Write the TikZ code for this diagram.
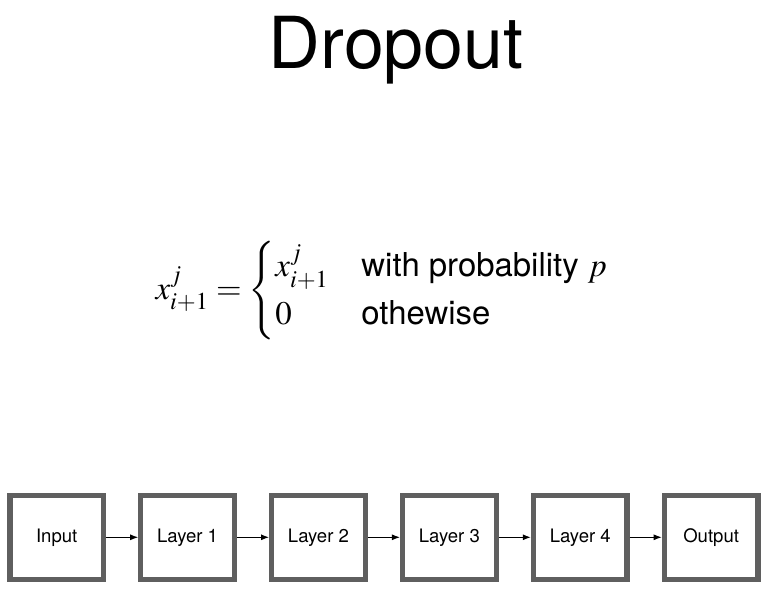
\documentclass[tikz,border=0pt]{standalone}
\usepackage{amsmath}
\usepackage{mathptmx}
\usepackage[no-math]{fontspec}
\setmainfont{TeX Gyre Heros}
\usetikzlibrary{positioning,arrows.meta}
\definecolor{boxgray}{HTML}{5F5F5F}
\tikzset{
  layerbox/.style={draw=boxgray, line width=3.76pt, fill=white, minimum width=2.34cm,
    minimum height=2.1cm, inner sep=0pt, font=\fontsize{13.2}{15}\selectfont},
  flow/.style={-{Latex[length=2mm,width=1.5mm]}, line width=0.7pt}
}
\begin{document}
\begin{tikzpicture}
    % Frame
    \useasboundingbox (0,0) rectangle (19.475,14.775);
    % Title
    \node (title) at (9.9,13.525) {\fontsize{51}{60}\selectfont Dropout};
    % Formula
    \node (rule) at (9.55,7.5) {\fontsize{23.4}{28}\selectfont
      $x^{j}_{i+1} = \begin{cases} x^{j}_{i+1} & \text{with probability } p\\ 0 & \text{othewise}\end{cases}$};
    % Layers
    \node [layerbox] (input) at (1.4175,1.3425) {Input};
    \node [layerbox, right=0.8cm of input] (layer1) {Layer 1};
    \node [layerbox, right=0.8cm of layer1] (layer2) {Layer 2};
    \node [layerbox, right=0.8cm of layer2] (layer3) {Layer 3};
    \node [layerbox, right=0.8cm of layer3] (layer4) {Layer 4};
    \node [layerbox, right=0.8cm of layer4] (output) {Output};
    % Arrows
    \draw [flow] (input) -- (layer1);
    \draw [flow] (layer1) -- (layer2);
    \draw [flow] (layer2) -- (layer3);
    \draw [flow] (layer3) -- (layer4);
    \draw [flow] (layer4) -- (output);
\end{tikzpicture}
\end{document}
